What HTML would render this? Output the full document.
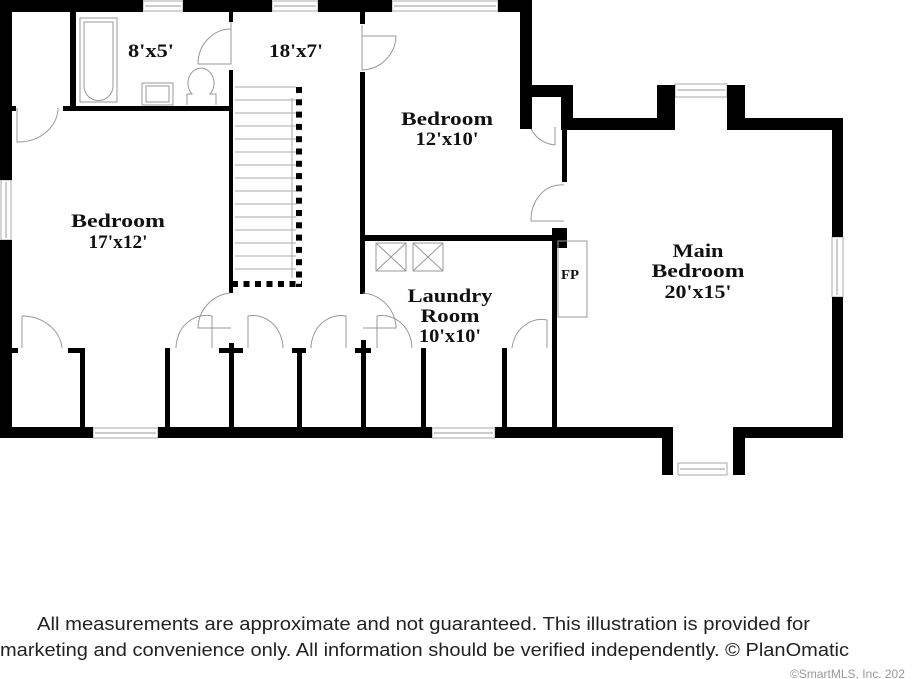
<!DOCTYPE html>
<html><head><meta charset="utf-8"><style>
html,body{margin:0;padding:0;background:#fff;}
svg{display:block;}
.l{font-family:"Liberation Serif",serif;font-weight:bold;font-size:19px;fill:#111;text-anchor:middle;}
.d{fill:none;stroke:#999;stroke-width:1;}
.w{fill:#fff;stroke:#aaa;stroke-width:1;}
</style></head><body>
<svg width="918" height="679" viewBox="0 0 918 679" xmlns="http://www.w3.org/2000/svg">
<rect width="918" height="679" fill="#fff"/>
<rect class="w" x="143" y="1" width="40" height="10"/><line class="d" x1="145" y1="6" x2="181" y2="6"/>
<rect class="w" x="272" y="1" width="46" height="10"/><line class="d" x1="274" y1="6" x2="316" y2="6"/>
<rect class="w" x="392" y="1" width="106" height="10"/><line class="d" x1="394" y1="6" x2="496" y2="6"/>
<rect class="w" x="1" y="180" width="10" height="60"/><line class="d" x1="6" y1="182" x2="6" y2="238"/>
<rect class="w" x="93" y="428" width="65" height="10"/><line class="d" x1="95" y1="433" x2="156" y2="433"/>
<rect class="w" x="432" y="428" width="63" height="10"/><line class="d" x1="434" y1="433" x2="493" y2="433"/>
<rect class="w" x="675" y="84" width="52" height="13"/><line class="d" x1="677" y1="90" x2="725" y2="90"/>
<rect class="w" x="678" y="463" width="49" height="12"/><line class="d" x1="680" y1="469" x2="725" y2="469"/>
<rect class="w" x="832" y="237" width="11" height="60"/><line class="d" x1="837" y1="239" x2="837" y2="295"/>
<g fill="#000">
<rect x="0" y="0" width="143" height="12"/>
<rect x="183" y="0" width="89" height="12"/>
<rect x="318" y="0" width="74" height="12"/>
<rect x="498" y="0" width="34" height="12"/>
<rect x="520" y="0" width="12" height="129"/>
<rect x="520" y="85" width="53" height="12"/>
<rect x="561" y="85" width="12" height="45"/>
<rect x="561" y="118" width="107" height="12"/>
<rect x="657" y="85" width="18" height="45"/>
<rect x="727" y="85" width="18" height="45"/>
<rect x="733" y="118" width="110" height="12"/>
<rect x="832" y="118" width="11" height="119"/>
<rect x="832" y="297" width="11" height="141"/>
<rect x="733" y="427" width="110" height="11"/>
<rect x="733" y="427" width="12" height="48"/>
<rect x="662" y="427" width="11" height="48"/>
<rect x="0" y="0" width="12" height="180"/>
<rect x="0" y="240" width="12" height="198"/>
<rect x="0" y="427" width="93" height="11"/>
<rect x="158" y="427" width="274" height="11"/>
<rect x="495" y="427" width="178" height="11"/>
<rect x="70" y="12" width="6" height="96"/>
<rect x="63" y="106" width="170" height="5"/>
<rect x="12" y="106" width="4" height="5"/>
<rect x="229" y="12" width="4" height="10"/>
<rect x="229" y="70" width="4" height="223"/>
<rect x="360" y="12" width="5" height="12"/>
<rect x="360" y="72" width="5" height="222"/>
<rect x="362" y="235" width="200" height="6"/>
<rect x="552" y="228" width="15" height="20"/>
<rect x="552" y="240" width="5" height="188"/>
<rect x="562" y="130" width="5" height="52"/>
<rect x="12" y="348" width="6" height="5"/>
<rect x="68" y="348" width="17" height="5"/><rect x="80" y="348" width="5" height="80"/>
<rect x="165" y="348" width="5" height="80"/>
<rect x="219" y="348" width="24" height="5"/><rect x="229" y="343" width="5" height="85"/>
<rect x="292" y="348" width="14" height="5"/><rect x="297" y="348" width="5" height="80"/>
<rect x="355" y="348" width="16" height="5"/><rect x="361" y="340" width="5" height="88"/>
<rect x="421" y="348" width="5" height="80"/>
<rect x="502" y="348" width="5" height="80"/>
<rect x="296" y="87" width="6" height="200" fill="url(#dots)"/>
<rect x="232" y="281" width="70" height="6" fill="url(#dotsh)"/>
</g>
<defs>
<pattern id="dots" x="0" y="87" width="6" height="12.3" patternUnits="userSpaceOnUse"><rect width="6" height="6" fill="#000"/></pattern>
<pattern id="dotsh" x="232" y="0" width="11.5" height="6" patternUnits="userSpaceOnUse"><rect width="6" height="6" fill="#000"/></pattern>
</defs>
<g stroke="#aaa" stroke-width="1">
<line x1="235" y1="87" x2="296" y2="87"/><line x1="235" y1="100" x2="296" y2="100"/><line x1="235" y1="113" x2="296" y2="113"/>
<line x1="235" y1="126" x2="296" y2="126"/><line x1="235" y1="139" x2="296" y2="139"/><line x1="235" y1="152" x2="296" y2="152"/>
<line x1="235" y1="165" x2="296" y2="165"/><line x1="235" y1="178" x2="296" y2="178"/><line x1="235" y1="191" x2="296" y2="191"/>
<line x1="235" y1="204" x2="296" y2="204"/><line x1="235" y1="217" x2="296" y2="217"/><line x1="235" y1="230" x2="296" y2="230"/>
<line x1="235" y1="243" x2="296" y2="243"/><line x1="235" y1="256" x2="296" y2="256"/><line x1="235" y1="269" x2="296" y2="269"/>
<line x1="292" y1="98" x2="292" y2="278"/>
</g>
<rect class="d" x="80" y="18" width="37" height="84"/>
<path class="d" d="M84 22 H113 V86 A14 14 0 0 1 84 86 Z"/>
<rect class="d" x="142" y="83" width="31" height="22"/>
<rect class="d" x="146" y="86" width="23" height="16"/>
<path class="d" d="M187 105 V94 H192 A13 15 0 1 1 210 94 H216 V105"/>
<g class="d"><rect x="376" y="243" width="30" height="28"/><line x1="376" y1="243" x2="406" y2="271"/><line x1="406" y1="243" x2="376" y2="271"/>
<rect x="413" y="243" width="30" height="28"/><line x1="413" y1="243" x2="443" y2="271"/><line x1="443" y1="243" x2="413" y2="271"/></g>
<rect class="d" x="558" y="241" width="29" height="76"/>
<g class="d">
<path d="M231 22 V64 H198 A33 35 0 0 1 231 29"/>
<path d="M362 25 V70 A35 35 0 0 0 396 36 H362"/>
<path d="M17 108 V142 A40 34 0 0 0 58 108"/>
<path d="M22 316 V348 M22 316 A40 35 0 0 1 62 348"/>
<path d="M230 293 A36 36 0 0 0 198 328 H231"/>
<path d="M363 293 A36 36 0 0 1 396 328 H363"/>
<path d="M176 348 A30 33 0 0 1 212 316 V348"/>
<path d="M248 348 V316 A30 33 0 0 1 283 348"/>
<path d="M311 348 A30 33 0 0 1 346 316 V348"/>
<path d="M377 348 V316 A30 33 0 0 1 412 348"/>
<path d="M512 348 A30 33 0 0 1 547 320 V348"/>
<path d="M531 129 A30 30 0 0 0 555 145 V127"/>
<path d="M564 185 A30 35 0 0 0 531 221 H564"/>
</g>
<text class="l" x="151" y="57" textLength="46" lengthAdjust="spacingAndGlyphs">8'x5'</text>
<text class="l" x="296" y="57" textLength="54" lengthAdjust="spacingAndGlyphs">18'x7'</text>
<text class="l" x="447" y="125" textLength="92" lengthAdjust="spacingAndGlyphs">Bedroom</text>
<text class="l" x="447" y="145" textLength="63" lengthAdjust="spacingAndGlyphs">12'x10'</text>
<text class="l" x="118" y="227" textLength="94" lengthAdjust="spacingAndGlyphs">Bedroom</text>
<text class="l" x="118" y="248" textLength="59" lengthAdjust="spacingAndGlyphs">17'x12'</text>
<text class="l" x="450" y="302" textLength="85" lengthAdjust="spacingAndGlyphs">Laundry</text>
<text class="l" x="450" y="322" textLength="59" lengthAdjust="spacingAndGlyphs">Room</text>
<text class="l" x="450" y="342" textLength="62" lengthAdjust="spacingAndGlyphs">10'x10'</text>
<text class="l" x="698" y="257" textLength="51" lengthAdjust="spacingAndGlyphs">Main</text>
<text class="l" x="698" y="277" textLength="93" lengthAdjust="spacingAndGlyphs">Bedroom</text>
<text class="l" x="698" y="298" textLength="67" lengthAdjust="spacingAndGlyphs">20'x15'</text>
<text class="l" x="570" y="279" style="font-size:14px" textLength="18" lengthAdjust="spacingAndGlyphs">FP</text>
<g font-family="Liberation Sans, sans-serif" font-size="18" fill="#222">
<text x="37" y="630" textLength="773" lengthAdjust="spacingAndGlyphs">All measurements are approximate and not guaranteed. This illustration is provided for</text>
<text x="0" y="656" textLength="849" lengthAdjust="spacingAndGlyphs">marketing and convenience only. All information should be verified independently. © PlanOmatic</text>
</g>
<text x="790" y="678" font-family="Liberation Sans, sans-serif" font-size="12" fill="#999">©SmartMLS, Inc. 202</text>
</svg>
</body></html>
